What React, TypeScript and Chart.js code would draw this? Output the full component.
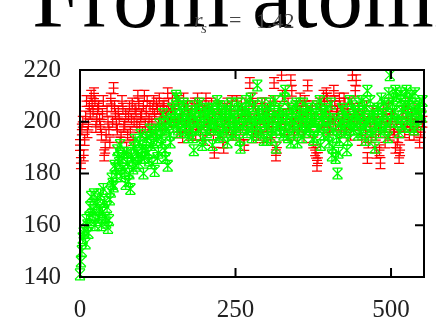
import React, { useEffect, useRef } from "react";
import { Chart, registerables } from "chart.js";

Chart.register(...registerables);

const X_MAIN = [
  0, 3, 6, 9, 12, 15, 18, 21, 24, 27,
  30, 33, 36, 39, 42, 45, 48, 51, 54, 57,
  60, 63, 66, 69, 72, 75, 78, 81, 84, 87,
  90, 93, 96, 99, 102, 105, 108, 111, 114, 117,
  120, 123, 126, 129, 132, 135, 138, 141, 144, 147,
  150, 153, 156, 159, 162, 165, 168, 171, 174, 177,
  180, 183, 186, 189, 192, 195, 198, 201, 204, 207,
  210, 213, 216, 219, 222, 225, 228, 231, 234, 237,
  240, 243, 246, 249, 252, 255, 258, 261, 264, 267,
  270, 273, 276, 279, 282, 285, 288, 291, 294, 297,
  300, 303, 306, 309, 312, 315, 318, 321, 324, 327,
  330, 333, 336, 339, 342, 345, 348, 351, 354, 357,
  360, 363, 366, 369, 372, 375, 378, 381, 384, 387,
  390, 393, 396, 399, 402, 405, 408, 411, 414, 417,
  420, 423, 426, 429, 432, 435, 438, 441, 444, 447,
  450, 453, 456, 459, 462, 465, 468, 471, 474, 477,
  480, 483, 486, 489, 492, 495, 498, 501, 504, 507,
  510, 513, 516, 519, 522, 525, 528, 531, 534, 537,
  540, 543, 546, 549,
];

const X_HALF = [
  1.5, 4.5, 7.5, 10.5, 13.5, 16.5, 19.5, 22.5, 25.5, 28.5,
  31.5, 34.5, 37.5, 40.5, 43.5, 46.5, 49.5, 52.5, 55.5, 58.5,
  61.5, 64.5, 67.5, 70.5, 73.5, 76.5, 79.5, 82.5, 85.5, 88.5,
  91.5, 94.5, 97.5, 100.5, 103.5, 106.5, 109.5, 112.5, 115.5, 118.5,
  121.5, 124.5, 127.5, 130.5, 133.5, 136.5, 139.5, 142.5, 145.5, 148.5,
  151.5, 154.5, 157.5, 160.5, 163.5, 166.5, 169.5, 172.5, 175.5, 178.5,
  181.5, 184.5, 187.5, 190.5, 193.5, 196.5, 199.5, 202.5, 205.5, 208.5,
  211.5, 214.5, 217.5, 220.5, 223.5, 226.5, 229.5, 232.5, 235.5, 238.5,
  241.5, 244.5, 247.5, 250.5, 253.5, 256.5, 259.5, 262.5, 265.5, 268.5,
  271.5, 274.5, 277.5, 280.5, 283.5, 286.5, 289.5, 292.5, 295.5, 298.5,
  301.5, 304.5, 307.5, 310.5, 313.5, 316.5, 319.5, 322.5, 325.5, 328.5,
  331.5, 334.5, 337.5, 340.5, 343.5, 346.5, 349.5, 352.5, 355.5, 358.5,
  361.5, 364.5, 367.5, 370.5, 373.5, 376.5, 379.5, 382.5, 385.5, 388.5,
  391.5, 394.5, 397.5, 400.5, 403.5, 406.5, 409.5, 412.5, 415.5, 418.5,
  421.5, 424.5, 427.5, 430.5, 433.5, 436.5, 439.5, 442.5, 445.5, 448.5,
  451.5, 454.5, 457.5, 460.5, 463.5, 466.5, 469.5, 472.5, 475.5, 478.5,
  481.5, 484.5, 487.5, 490.5, 493.5, 496.5, 499.5, 502.5, 505.5, 508.5,
  511.5, 514.5, 517.5, 520.5, 523.5, 526.5, 529.5, 532.5, 535.5, 538.5,
  541.5, 544.5, 547.5, 550.5,
];

const RED_MAIN = [
  191, 197, 187, 202, 196, 206, 210, 204, 208, 201,
  206, 198, 203, 187, 195, 200, 192, 206, 213, 203,
  197, 201, 194, 205, 199, 190, 202, 196, 207, 200,
  204, 210, 198, 203, 206, 199, 208, 201, 196, 205,
  203, 207, 199, 204, 197, 206, 202, 211, 200, 205,
  198, 203, 196, 207, 201, 194, 205, 199, 203, 197,
  206, 200, 195, 209, 202, 198, 204, 193, 200, 206,
  197, 202, 188, 199, 205, 196, 203, 190, 201, 207,
  198, 204, 195, 200, 208, 202, 197, 205, 191, 199,
  203, 215, 200, 194, 206, 199, 203, 196, 201, 207,
  198, 204, 193, 200, 215, 187, 202, 197, 218, 203,
  199, 195, 205, 216, 200, 196, 204, 199, 209, 201,
  194, 206, 214, 199, 203, 192, 189, 183, 198, 205,
  200, 208, 211, 202, 197, 206, 212, 199, 204, 209,
  196, 201, 207, 198, 203, 195, 218, 200, 216, 205,
  199, 193, 202, 197, 186, 201, 194, 204, 199, 188,
  196, 184, 202, 198, 205, 200, 195, 203, 197, 190,
  192, 186, 199, 204, 196, 201, 207, 198, 203, 195,
  200, 197, 192, 202,
];

const RED_HALF = [
  184, 200, 193, 208, 199, 203, 207, 211, 198, 205,
  201, 195, 208, 190, 204, 197, 209, 200, 206, 199,
  204, 192, 208, 198, 203, 195, 206, 201, 193, 205,
  199, 207, 202, 196, 210, 204, 198, 206, 200, 208,
  197, 205, 209, 201, 206, 199, 204, 207, 202, 209,
  205, 200, 208, 196, 203, 209, 198, 206, 202, 195,
  201, 207, 198, 204, 195, 206, 200, 209, 197, 203,
  207, 195, 201, 199, 206, 203, 192, 200, 205, 197,
  202, 208, 199, 196, 204, 200, 207, 193, 202, 198,
  206, 201, 209, 197, 203, 195, 200, 207, 194, 202,
  205, 199, 196, 208, 202, 190, 204, 200, 210, 197,
  203, 207, 199, 212, 195, 201, 206, 197, 204, 200,
  208, 198, 203, 196, 206, 201, 188, 186, 207, 199,
  210, 204, 209, 198, 206, 201, 208, 203, 199, 206,
  202, 209, 197, 205, 200, 207, 203, 212, 199, 204,
  197, 203, 199, 206, 192, 198, 204, 201, 195, 203,
  189, 199, 205, 192, 201, 207, 198, 203, 196, 200,
  194, 189, 204, 198, 206, 200, 195, 203, 199, 205,
  198, 202, 196, 200,
];

const GREEN_MAIN = [
  141, 150, 157, 153, 160, 163, 171, 166, 160, 168,
  163, 172, 165, 169, 161, 159, 170, 178, 175, 182,
  189, 184, 179, 186, 181, 188, 177, 174, 185, 190,
  183, 187, 192, 186, 180, 189, 194, 185, 191, 196,
  181, 193, 188, 197, 192, 199, 186, 183, 195, 201,
  198, 204, 209, 200, 196, 203, 199, 206, 194, 201,
  197, 189, 204, 200, 207, 198, 193, 202, 196, 205,
  200, 191, 203, 198, 206, 195, 201, 197, 204, 192,
  199, 207, 202, 196, 200, 205, 190, 198, 203, 208,
  197, 201, 194, 206, 199, 214, 202, 196, 204, 199,
  193, 201, 207, 197, 203, 190, 199, 205, 200, 195,
  212, 202, 198, 192, 204, 200, 207, 196, 201, 194,
  203, 199, 205, 197, 202, 193, 200, 206, 198, 191,
  203, 199, 205, 195, 201, 187, 197, 186, 180, 193,
  200, 204, 196, 189, 201, 197, 206, 199, 203, 195,
  200, 208, 198, 193, 212, 202, 197, 204, 190, 199,
  205, 196, 201, 207, 199, 194, 218, 203, 209, 212,
  200, 196, 211, 204, 198, 212, 206, 201, 210, 197,
  204, 199, 207, 202,
];

const GREEN_HALF = [
  146, 155, 158, 162, 157, 167, 164, 172, 162, 170,
  166, 160, 174, 163, 167, 162, 173, 176, 183, 179,
  186, 191, 182, 188, 176, 184, 180, 187, 182, 193,
  188, 184, 195, 189, 186, 193, 188, 197, 184, 192,
  196, 186, 199, 194, 203, 189, 197, 200, 192, 205,
  201, 210, 197, 205, 200, 207, 196, 202, 199, 204,
  194, 201, 206, 197, 203, 191, 199, 205, 202, 198,
  205, 197, 200, 208, 194, 203, 199, 206, 196, 201,
  204, 195, 201, 198, 207, 193, 202, 199, 205, 196,
  203, 209, 198, 201, 195, 204, 200, 207, 193, 203,
  198, 205, 194, 201, 208, 197, 202, 196, 203, 209,
  199, 194, 205, 201, 197, 206, 192, 203, 199, 207,
  196, 202, 198, 205, 200, 194, 203, 197, 208, 201,
  195, 204, 199, 192, 207, 190, 201, 194, 188, 199,
  205, 198, 202, 193, 208, 200, 197, 204, 201, 207,
  196, 203, 206, 199, 201, 208, 195, 202, 198, 205,
  199, 209, 203, 197, 206, 211, 200, 207, 204, 210,
  202, 208, 199, 206, 210, 203, 209, 198, 205, 211,
  201, 206, 203, 208,
];

const RED_ERROR = 2.1;
const GREEN_ERROR = 2.1;

const X_TICKS = [0, 250, 500];
const Y_TICKS = [140, 160, 180, 200, 220];
const X_MIN = 0;
const X_MAX = 553;
const Y_MIN = 140;
const Y_MAX = 220;

const TITLE = "From atomistic";
const SUB_VAR = "r";
const SUB_INDEX = "s";
const SUB_VALUE = "1.42";

const SERIF = '"Liberation Serif", "Times New Roman", serif';

const decorPlugin = {
  id: "decor",
  afterDatasetsDraw(chart: any) {
    const ctx = chart.ctx as CanvasRenderingContext2D;
    const ys = chart.scales.y;
    const xs = chart.scales.x;
    const { left, right, top, bottom } = chart.chartArea;
    ctx.save();
    chart.data.datasets.forEach((ds: any, di: number) => {
      const meta = chart.getDatasetMeta(di);
      ctx.strokeStyle = ds.borderColor;
      ctx.lineWidth = 1.25;
      const w = 5;
      meta.data.forEach((pt: any, i: number) => {
        const v = ds.data[i].y;
        const x = pt.x;
        const y = pt.y;
        const yt = ys.getPixelForValue(v + ds.errorValue);
        const yb = ys.getPixelForValue(v - ds.errorValue);
        ctx.beginPath();
        ctx.moveTo(x, yt);
        ctx.lineTo(x, yb);
        ctx.moveTo(x - w, yt);
        ctx.lineTo(x + w, yt);
        ctx.moveTo(x - w, yb);
        ctx.lineTo(x + w, yb);
        if (ds.markStyle === "plus") {
          ctx.moveTo(x - w, y);
          ctx.lineTo(x + w, y);
        } else {
          ctx.moveTo(x - w, y - w);
          ctx.lineTo(x + w, y + w);
          ctx.moveTo(x - w, y + w);
          ctx.lineTo(x + w, y - w);
        }
        ctx.stroke();
      });
    });
    ctx.strokeStyle = "#000";
    ctx.lineWidth = 2;
    ctx.strokeRect(left, top, right - left, bottom - top);
    const tl = 9;
    ctx.beginPath();
    Y_TICKS.forEach((t) => {
      const y = ys.getPixelForValue(t);
      ctx.moveTo(left, y);
      ctx.lineTo(left + tl, y);
      ctx.moveTo(right, y);
      ctx.lineTo(right - tl, y);
    });
    X_TICKS.forEach((t) => {
      const x = xs.getPixelForValue(t);
      ctx.moveTo(x, bottom);
      ctx.lineTo(x, bottom - tl);
      ctx.moveTo(x, top);
      ctx.lineTo(x, top + tl);
    });
    ctx.stroke();
    ctx.restore();
  },
  afterDraw(chart: any) {
    const ctx = chart.ctx as CanvasRenderingContext2D;
    ctx.save();
    ctx.textBaseline = "alphabetic";
    ctx.textAlign = "left";
    ctx.fillStyle = "#000";
    ctx.font = `91px ${SERIF}`;
    ctx.fillText(TITLE, 32, 27);
    ctx.fillStyle = "#444";
    ctx.font = `italic 22px ${SERIF}`;
    ctx.fillText(SUB_VAR, 194, 27);
    ctx.font = `italic 15px ${SERIF}`;
    ctx.fillText(SUB_INDEX, 201, 33);
    ctx.font = `22px ${SERIF}`;
    ctx.fillText("=", 229, 27);
    ctx.fillText(SUB_VALUE, 256, 28);
    ctx.restore();
  },
};

function points(xs: number[], ys: number[]) {
  return xs.map((x, i) => ({ x, y: ys[i] }));
}

export default function App() {
  const ref = useRef<HTMLCanvasElement | null>(null);

  useEffect(() => {
    document.body.style.margin = "0";
    const canvas = ref.current;
    if (!canvas) return;
    const mk = (label: string, data: any[], color: string, err: number, style: string) =>
      ({
        label,
        data,
        borderColor: color,
        backgroundColor: color,
        pointRadius: 0,
        errorValue: err,
        markStyle: style,
      } as any);
    const chart = new Chart(canvas, {
      type: "scatter",
      data: {
        datasets: [
          mk("red", points(X_MAIN, RED_MAIN), "#ff0000", RED_ERROR, "plus"),
          mk("red b", points(X_HALF, RED_HALF), "#ff0000", RED_ERROR, "plus"),
          mk("green", points(X_MAIN, GREEN_MAIN), "#00ff00", GREEN_ERROR, "cross"),
          mk("green b", points(X_HALF, GREEN_HALF), "#00ff00", GREEN_ERROR, "cross"),
        ],
      },
      options: {
        responsive: false,
        animation: false,
        events: [],
        layout: { padding: { top: 70, right: 12, left: 0, bottom: 0 } },
        plugins: {
          legend: { display: false },
          tooltip: { enabled: false },
          title: { display: false },
        },
        scales: {
          x: {
            type: "linear",
            min: X_MIN,
            max: X_MAX,
            grid: { display: false, drawTicks: false },
            border: { display: false },
            afterBuildTicks: (s: any) => {
              s.ticks = X_TICKS.map((v) => ({ value: v }));
            },
            afterFit: (s: any) => {
              s.height = 46;
            },
            ticks: {
              padding: 18,
              color: "#222",
              maxRotation: 0,
              font: { family: SERIF, size: 25 },
            },
          },
          y: {
            type: "linear",
            min: Y_MIN,
            max: Y_MAX,
            grid: { display: false, drawTicks: false },
            border: { display: false },
            afterBuildTicks: (s: any) => {
              s.ticks = Y_TICKS.map((v) => ({ value: v }));
            },
            afterFit: (s: any) => {
              s.width = 80;
            },
            ticks: {
              padding: 19,
              color: "#222",
              font: { family: SERIF, size: 25 },
            },
          },
        },
      },
      plugins: [decorPlugin],
    });
    return () => chart.destroy();
  }, []);

  return (
    <div style={{ width: 436, height: 323 }}>
      <canvas ref={ref} width={436} height={323} style={{ display: "block" }} />
    </div>
  );
}
